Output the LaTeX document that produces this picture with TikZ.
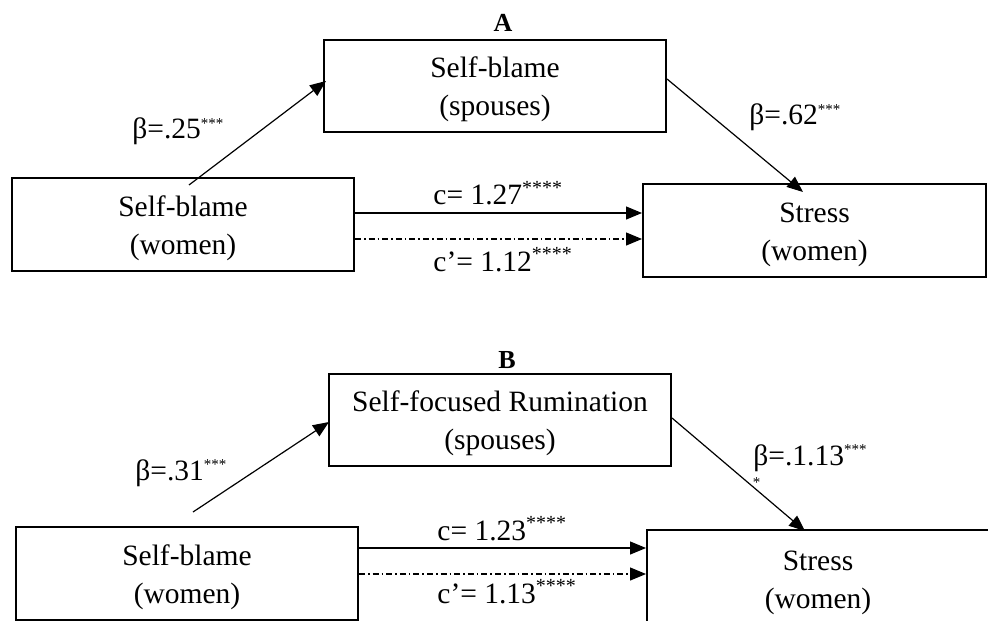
\documentclass[tikz,border=0pt]{standalone}
\usepackage{fontspec}
\setmainfont{Liberation Serif}
\usetikzlibrary{arrows.meta}
\newcommand\mysups[2]{\raisebox{0.36em}{\fontsize{#1}{#1}\selectfont #2}}
\newcommand\firstline{\rule{0pt}{14pt}}
\begin{document}
\begin{tikzpicture}[x=0.5pt,y=-0.5pt,
 box/.style={draw, line width=1pt, inner sep=0pt, align=center, font=\fontsize{14.75pt}{19pt}\selectfont},
 conn/.style={line width=0.6pt, -{Triangle[length=8pt,width=6.5pt]}},
 dd/.style={conn, dash pattern=on 3pt off 1.5pt on 0.8pt off 1.5pt},
 lab/.style={inner sep=0pt, anchor=base west, font=\fontsize{14.75pt}{17pt}\selectfont},
 ttl/.style={font=\fontsize{13pt}{13pt}\selectfont\bfseries, inner sep=0pt}]
\useasboundingbox (0,0) rectangle (988,620);
\clip (0,0) rectangle (988,620);
% Panel A
\node[ttl] (tA) at (503,23) {A};
\node[box, minimum width=171pt, minimum height=46pt] (mA) at (495,86) {\firstline Self-blame\\(spouses)};
\node[box, minimum width=171pt, minimum height=46.5pt] (lA) at (183,224.5) {\firstline Self-blame\\(women)};
\node[box, minimum width=171.5pt, minimum height=46.5pt] (rA) at (814.5,230.5) {\firstline Stress\\(women)};
\coordinate (a1s) at (189,185);
\coordinate (a1e) at (326,81);
\coordinate (a2s) at (667,79);
\coordinate (a2e) at (803,192);
\draw[conn] (a1s) -- (a1e);
\draw[conn] (a2s) -- (a2e);
\draw[conn] (lA.east |- 0,213) -- (rA.west |- 0,213);
\draw[dd] (lA.east |- 0,239) -- (rA.west |- 0,239);
\node[lab] (bA1) at (132,139) {β=.25\mysups{7.5pt}{***}};
\node[lab] (bA2) at (749,125) {β=.62\mysups{7.5pt}{***}};
\node[lab] (cA) at (433,205) {c= 1.27\mysups{10pt}{****}};
\node[lab] (cpA) at (433,271) {c’= 1.12\mysups{10pt}{****}};
% Panel B
\node[ttl] (tB) at (507,360) {B};
\node[box, minimum width=171pt, minimum height=46pt] (mB) at (500,420) {\firstline Self-focused Rumination\\(spouses)};
\node[box, minimum width=171pt, minimum height=46.5pt] (lB) at (187,573.5) {\firstline Self-blame\\(women)};
\node[box, minimum width=171pt, minimum height=48.5pt] (rB) at (818,578.5) {\firstline Stress\\(women)};
\coordinate (b1s) at (193,512);
\coordinate (b1e) at (329,422);
\coordinate (b2s) at (672,418);
\coordinate (b2e) at (805,531);
\draw[conn] (b1s) -- (b1e);
\draw[conn] (b2s) -- (b2e);
\draw[conn] (lB.east |- 0,548) -- (rB.west |- 0,548);
\draw[dd] (lB.east |- 0,574) -- (rB.west |- 0,574);
\node[lab] (bB1) at (135,480) {β=.31\mysups{7.5pt}{***}};
\node[lab] (bB2) at (753,465) {β=.1.13\mysups{7.5pt}{***}};
\node[inner sep=0pt, font=\fontsize{7.5pt}{7.5pt}\selectfont] (bB2s) at (756.5,483) {*};
\node[lab] (cB) at (437,540) {c= 1.23\mysups{10pt}{****}};
\node[lab] (cpB) at (437,603) {c’= 1.13\mysups{10pt}{****}};
\end{tikzpicture}
\end{document}
